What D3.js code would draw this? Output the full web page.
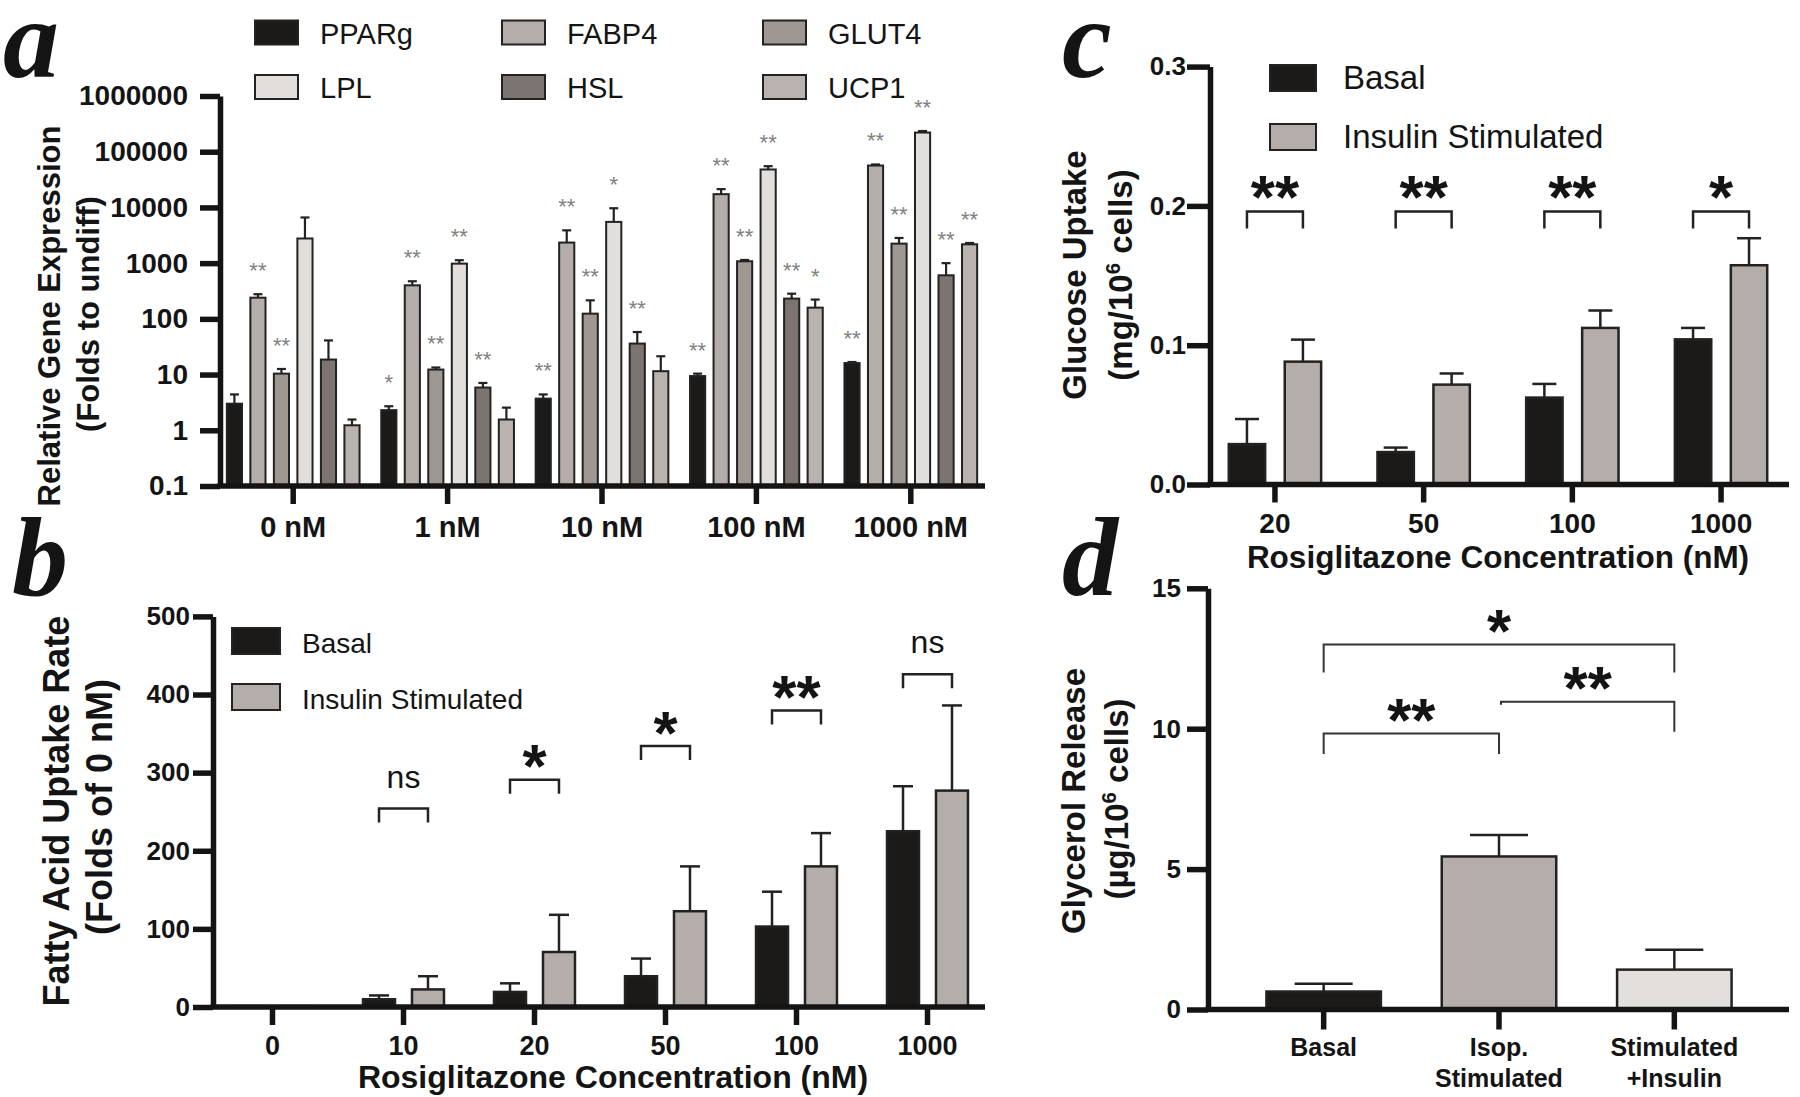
<!DOCTYPE html>
<html><head><meta charset="utf-8">
<script src="https://cdn.jsdelivr.net/npm/d3@7"></script>
<style>body{margin:0;background:#fff}svg{display:block}</style>
</head><body>
<svg id="chart" width="1800" height="1097"></svg>
<script>
// ---------------- DATA ----------------
// Panel a: relative gene expression (log scale)
const aCategories = ["0 nM", "1 nM", "10 nM", "100 nM", "1000 nM"];
const aGenes = ["PPARg", "FABP4", "GLUT4", "LPL", "HSL", "UCP1"];
const ppargMean = [3.0, 2.3, 3.7, 9.4, 16.1];
const ppargErr  = [1.4, 0.4, 0.7, 1.0, 0.7];
const fabp4Mean = [240, 400, 2340, 17300, 56500];
const fabp4Err  = [37, 73, 1540, 4000, 2500];
const glut4Mean = [10.4, 12.3, 124, 1080, 2240];
const glut4Err  = [2.2, 1.1, 91, 60, 590];
const lplMean   = [2770, 980, 5500, 48000, 221000];
const lplErr    = [3830, 150, 4170, 7000, 14000];
const hslMean   = [18.6, 5.85, 36, 231, 605];
const hslErr    = [22.4, 1.22, 22, 52, 395];
const ucp1Mean  = [1.23, 1.56, 11.5, 159, 2180];
const ucp1Err   = [0.33, 0.99, 9.8, 63, 120];
const ppargSig = ["", "*", "**", "**", "**"];
const fabp4Sig = ["**", "**", "**", "**", "**"];
const glut4Sig = ["**", "**", "**", "**", "**"];
const lplSig   = ["", "**", "*", "**", "**"];
const hslSig   = ["", "**", "**", "**", "**"];
const ucp1Sig  = ["", "", "", "*", "**"];
const aTickValues = [0.1, 1, 10, 100, 1000, 10000, 100000, 1000000];
const aTickLabels = ["0.1", "1", "10", "100", "1000", "10000", "100000", "1000000"];

// Panel b: fatty acid uptake
const bCategories = ["0", "10", "20", "50", "100", "1000"];
const bSeries = ["Basal", "Insulin Stimulated"];
const bBasal      = [1, 9.9, 19.3, 39.4, 103, 225];
const bBasalErr   = [0, 4.9, 11, 22.6, 44.6, 57.6];
const bInsulin    = [1, 22.5, 70.4, 122.6, 180, 277];
const bInsulinErr = [0, 16.9, 47.6, 57.4, 42.6, 109];
const bSig        = ["", "ns", "*", "*", "**", "ns"];
const bBracketAt  = [null, 254, 291, 334, 379.5, 426];
const bTicks = [0, 100, 200, 300, 400, 500];

// Panel c: glucose uptake
const cCategories = ["20", "50", "100", "1000"];
const cBasal      = [0.029, 0.0233, 0.0624, 0.1042];
const cBasalErr   = [0.018, 0.0032, 0.0098, 0.0082];
const cInsulin    = [0.0882, 0.0717, 0.1124, 0.1574];
const cInsulinErr = [0.0158, 0.008, 0.0125, 0.0194];
const cSig        = ["**", "**", "**", "*"];
const cBracketAt  = [0.196, 0.196, 0.196, 0.196];
const cTicks = [0, 0.1, 0.2, 0.3];

// Panel d: glycerol release
const dCategories = ["Basal", "Isop. Stimulated", "Stimulated +Insulin"];
const dLabelLines = [["Basal"], ["Isop.", "Stimulated"], ["Stimulated", "+Insulin"]];
const dValues = [0.64, 5.45, 1.42];
const dErr    = [0.28, 0.76, 0.71];
const dBrFrom  = [0, 0, 1];
const dBrTo    = [1, 2, 2];
const dBrLevel = [9.83, 13.0, 10.96];
const dBrLeftEnd  = [9.1, 12.0, 10.85];
const dBrRightEnd = [9.1, 12.0, 9.89];
const dBrLabel = ["**", "*", "**"];
const dTicks = [0, 5, 10, 15];

// ---------------- STYLE ----------------
const FONT = "'Liberation Sans', Arial, Helvetica, sans-serif";
const SERIF = "'Liberation Serif', 'Times New Roman', serif";
const INK = "#141414";
const geneColors = ["#1c1a19", "#b4adaa", "#9f9792", "#e2dedc", "#7b7470", "#b9b2af"];
const basalColor = "#1c1a19", insulinColor = "#b4adaa";
const dColors = ["#1c1a19", "#b4adaa", "#e3dfdd"];

const svg = d3.select("#chart");
svg.append("rect").attr("width", 1800).attr("height", 1097).attr("fill", "#fff");

function styleAxis(g, fs, sw) {
  g.attr("font-family", FONT).attr("font-size", fs).attr("font-weight", "bold");
  g.selectAll("path.domain").attr("stroke", INK).attr("stroke-width", sw);
  g.selectAll(".tick line").attr("stroke", INK).attr("stroke-width", sw);
  g.selectAll(".tick text").attr("fill", INK);
}
function hLine(x1, x2, y, sw) {
  svg.append("line").attr("x1", x1).attr("x2", x2).attr("y1", y).attr("y2", y)
    .attr("stroke", INK).attr("stroke-width", sw);
}
function yTitle(x, y, fs, parts) {
  const t = svg.append("text").attr("transform", `translate(${x},${y}) rotate(-90)`)
    .attr("text-anchor", "middle").attr("font-family", FONT).attr("font-weight", "bold")
    .attr("font-size", fs).attr("fill", INK);
  parts.forEach(p => {
    const s = t.append("tspan").text(p.t);
    if (p.sup) s.attr("font-size", fs * 0.62).attr("dy", -fs * 0.36);
    if (p.after) s.attr("dy", fs * 0.36);
  });
}
function bigStar(x, cy, txt, fs) {
  svg.append("text").attr("x", x).attr("y", cy + fs * 0.56).attr("text-anchor", "middle")
    .attr("font-family", FONT).attr("font-weight", "bold").attr("font-size", fs)
    .attr("fill", INK).text(txt);
}
function letter(x, y, fs, t) {
  svg.append("text").attr("x", x).attr("y", y).attr("font-family", SERIF)
    .attr("font-style", "italic").attr("font-weight", "bold").attr("font-size", fs)
    .attr("fill", INK).text(t);
}

// ================= PANEL A =================
const aMeans = [ppargMean, fabp4Mean, glut4Mean, lplMean, hslMean, ucp1Mean];
const aErrs = [ppargErr, fabp4Err, glut4Err, lplErr, hslErr, ucp1Err];
const aSigs = [ppargSig, fabp4Sig, glut4Sig, lplSig, hslSig, ucp1Sig];
const aRows = [];
aGenes.forEach((g, gi) => aCategories.forEach((c, ci) =>
  aRows.push({ gene: g, gi, cat: c, v: aMeans[gi][ci], e: aErrs[gi][ci], sig: aSigs[gi][ci] })));

const ax = d3.scaleBand().domain(aCategories).range([216, 988]).paddingInner(0.1405).paddingOuter(0.07025);
const axIn = d3.scaleBand().domain(aGenes).range([0, ax.bandwidth()]).paddingInner(0.356);
const ay = d3.scaleLog().domain([0.1, 1e6]).range([486, 96]);

const aBars = svg.append("g");
aBars.selectAll("rect").data(aRows).join("rect")
  .attr("x", d => ax(d.cat) + axIn(d.gene)).attr("width", axIn.bandwidth())
  .attr("y", d => ay(d.v)).attr("height", d => ay(0.1) - ay(d.v))
  .attr("fill", d => geneColors[d.gi]).attr("stroke", "#222").attr("stroke-width", 2);
const aErrG = svg.append("g").attr("stroke", "#222").attr("stroke-width", 2.2);
aRows.forEach(d => {
  const cx = ax(d.cat) + axIn(d.gene) + axIn.bandwidth() / 2;
  aErrG.append("line").attr("x1", cx).attr("x2", cx).attr("y1", ay(d.v)).attr("y2", ay(d.v + d.e));
  aErrG.append("line").attr("x1", cx - 4.5).attr("x2", cx + 4.5).attr("y1", ay(d.v + d.e)).attr("y2", ay(d.v + d.e));
  if (d.sig) {
    svg.append("text").attr("x", cx).attr("y", ay(d.v + d.e) - 28 + 12)
      .attr("text-anchor", "middle").attr("font-family", FONT).attr("font-size", 22)
      .attr("fill", "#808080").text(d.sig);
  }
});
const ayAxis = svg.append("g").attr("transform", "translate(220,0)")
  .call(d3.axisLeft(ay).tickValues(aTickValues).tickFormat((d, i) => aTickLabels[i]).tickSize(20).tickPadding(12).tickSizeOuter(0));
styleAxis(ayAxis, 28, 5.5);
const axAxis = svg.append("g").attr("transform", "translate(0,486)")
  .call(d3.axisBottom(ax).tickSize(18).tickPadding(12).tickSizeOuter(0));
styleAxis(axAxis, 29, 5.5);
axAxis.select("path.domain").remove();
hLine(217.5, 985, 486, 5.5);
yTitle(60, 316, 31, [{ t: "Relative Gene Expression" }]);
yTitle(99, 314, 31, [{ t: "(Folds to undiff)" }]);
// legend a
aGenes.forEach((g, i) => {
  const col = i % 3, row = Math.floor(i / 3);
  const lx = [255, 502, 763][col], ly = [20.5, 75][row];
  svg.append("rect").attr("x", lx).attr("y", ly).attr("width", 43).attr("height", 24)
    .attr("fill", geneColors[i]).attr("stroke", "#222").attr("stroke-width", 2);
  svg.append("text").attr("x", lx + 65).attr("y", ly + 23).attr("font-family", FONT)
    .attr("font-size", 29).attr("fill", INK).text(g);
});
letter(3, 77, 112, "a");

// ================= PANEL B =================
const bx = d3.scaleBand().domain(bCategories).range([207, 993]).paddingInner(0.382).paddingOuter(0.191);
const bxIn = d3.scaleBand().domain(bSeries).range([0, bx.bandwidth()]).paddingInner(0.347);
const by = d3.scaleLinear().domain([0, 500]).range([1007, 616.4]);
const bRows = [];
bCategories.forEach((c, i) => {
  bRows.push({ cat: c, s: bSeries[0], v: bBasal[i], e: bBasalErr[i], col: basalColor });
  bRows.push({ cat: c, s: bSeries[1], v: bInsulin[i], e: bInsulinErr[i], col: insulinColor });
});
svg.append("g").selectAll("rect").data(bRows).join("rect")
  .attr("x", d => bx(d.cat) + bxIn(d.s)).attr("width", bxIn.bandwidth())
  .attr("y", d => by(d.v)).attr("height", d => by(0) - by(d.v))
  .attr("fill", d => d.col).attr("stroke", "#222").attr("stroke-width", 2.5);
const bErrG = svg.append("g").attr("stroke", "#222").attr("stroke-width", 2.5);
bRows.filter(d => d.e > 0).forEach(d => {
  const cx = bx(d.cat) + bxIn(d.s) + bxIn.bandwidth() / 2;
  bErrG.append("line").attr("x1", cx).attr("x2", cx).attr("y1", by(d.v)).attr("y2", by(d.v + d.e));
  bErrG.append("line").attr("x1", cx - 10).attr("x2", cx + 10).attr("y1", by(d.v + d.e)).attr("y2", by(d.v + d.e));
});
bCategories.forEach((c, i) => {
  if (!bSig[i]) return;
  const x1 = bx(c) + bxIn(bSeries[0]) + bxIn.bandwidth() / 2;
  const x2 = bx(c) + bxIn(bSeries[1]) + bxIn.bandwidth() / 2;
  const y = by(bBracketAt[i]);
  svg.append("path").attr("d", `M${x1},${y + 14}V${y}H${x2}V${y + 14}`)
    .attr("fill", "none").attr("stroke", "#222").attr("stroke-width", 2.5);
  if (bSig[i] === "ns") {
    svg.append("text").attr("x", (x1 + x2) / 2).attr("y", y - 21).attr("text-anchor", "middle")
      .attr("font-family", FONT).attr("font-size", 32).attr("fill", INK).text("ns");
  } else bigStar((x1 + x2) / 2, y - 27, bSig[i], 62);
});
const byAxis = svg.append("g").attr("transform", "translate(213,0)")
  .call(d3.axisLeft(by).tickValues(bTicks).tickFormat(d3.format("d")).tickSize(20).tickPadding(3).tickSizeOuter(0));
styleAxis(byAxis, 26, 5.5);
const bxAxis = svg.append("g").attr("transform", "translate(0,1007)")
  .call(d3.axisBottom(bx).tickSize(18).tickPadding(11).tickSizeOuter(0));
styleAxis(bxAxis, 27, 5.5);
bxAxis.select("path.domain").remove();
hLine(210.5, 985, 1007, 5.5);
svg.append("text").attr("x", 613).attr("y", 1088).attr("text-anchor", "middle")
  .attr("font-family", FONT).attr("font-weight", "bold").attr("font-size", 32).attr("fill", INK)
  .text("Rosiglitazone Concentration (nM)");
yTitle(69, 811, 36, [{ t: "Fatty Acid Uptake Rate" }]);
yTitle(112, 807, 36, [{ t: "(Folds of 0 nM)" }]);
[basalColor, insulinColor].forEach((col, i) => {
  const ly = [628, 684][i];
  svg.append("rect").attr("x", 232).attr("y", ly).attr("width", 48).attr("height", 26)
    .attr("fill", col).attr("stroke", "#222").attr("stroke-width", 2);
  svg.append("text").attr("x", 302).attr("y", ly + 25).attr("font-family", FONT)
    .attr("font-size", 28).attr("fill", INK).text(bSeries[i]);
});
letter(12, 595, 112, "b");

// ================= PANEL C =================
const cx = d3.scaleBand().domain(cCategories).range([1200.6, 1795.4]).paddingInner(0.379).paddingOuter(0.1895);
const cxIn = d3.scaleBand().domain(bSeries).range([0, cx.bandwidth()]).paddingInner(0.35);
const cy = d3.scaleLinear().domain([0, 0.3]).range([484.5, 66.6]);
const cRows = [];
cCategories.forEach((c, i) => {
  cRows.push({ cat: c, s: bSeries[0], v: cBasal[i], e: cBasalErr[i], col: basalColor });
  cRows.push({ cat: c, s: bSeries[1], v: cInsulin[i], e: cInsulinErr[i], col: insulinColor });
});
svg.append("g").selectAll("rect").data(cRows).join("rect")
  .attr("x", d => cx(d.cat) + cxIn(d.s)).attr("width", cxIn.bandwidth())
  .attr("y", d => cy(d.v)).attr("height", d => cy(0) - cy(d.v))
  .attr("fill", d => d.col).attr("stroke", "#222").attr("stroke-width", 2.5);
const cErrG = svg.append("g").attr("stroke", "#222").attr("stroke-width", 2.5);
cRows.forEach(d => {
  const x = cx(d.cat) + cxIn(d.s) + cxIn.bandwidth() / 2;
  cErrG.append("line").attr("x1", x).attr("x2", x).attr("y1", cy(d.v)).attr("y2", cy(d.v + d.e));
  cErrG.append("line").attr("x1", x - 12).attr("x2", x + 12).attr("y1", cy(d.v + d.e)).attr("y2", cy(d.v + d.e));
});
cCategories.forEach((c, i) => {
  const x1 = cx(c) + cxIn(bSeries[0]) + cxIn.bandwidth() / 2;
  const x2 = cx(c) + cxIn(bSeries[1]) + cxIn.bandwidth() / 2;
  const y = cy(cBracketAt[i]);
  svg.append("path").attr("d", `M${x1},${y + 17}V${y}H${x2}V${y + 17}`)
    .attr("fill", "none").attr("stroke", "#222").attr("stroke-width", 2.5);
  bigStar((x1 + x2) / 2, y - 28, cSig[i], 62);
});
const cyAxis = svg.append("g").attr("transform", "translate(1210,0)")
  .call(d3.axisLeft(cy).tickValues(cTicks).tickFormat(d3.format(".1f")).tickSize(23).tickPadding(1).tickSizeOuter(0));
styleAxis(cyAxis, 26, 5.5);
const cxAxis = svg.append("g").attr("transform", "translate(0,484.5)")
  .call(d3.axisBottom(cx).tickSize(18).tickPadding(11).tickSizeOuter(0));
styleAxis(cxAxis, 28, 5.5);
cxAxis.select("path.domain").remove();
hLine(1207.5, 1789, 484.5, 5.5);
svg.append("text").attr("x", 1498).attr("y", 568).attr("text-anchor", "middle")
  .attr("font-family", FONT).attr("font-weight", "bold").attr("font-size", 31.5).attr("fill", INK)
  .text("Rosiglitazone Concentration (nM)");
yTitle(1086, 275, 33, [{ t: "Glucose Uptake" }]);
yTitle(1132, 275, 33, [{ t: "(mg/10" }, { t: "6", sup: true }, { t: " cells)", after: true }]);
[basalColor, insulinColor].forEach((col, i) => {
  const ly = [65, 124][i];
  svg.append("rect").attr("x", 1270).attr("y", ly).attr("width", 46).attr("height", 26)
    .attr("fill", col).attr("stroke", "#222").attr("stroke-width", 2);
  svg.append("text").attr("x", 1343).attr("y", ly + 24).attr("font-family", FONT)
    .attr("font-size", 33).attr("fill", INK).text(bSeries[i]);
});
letter(1062, 77, 112, "c");

// ================= PANEL D =================
const dx = d3.scaleBand().domain(dCategories).range([1236, 1762]).paddingInner(0.347).paddingOuter(0.1735);
const dy = d3.scaleLinear().domain([0, 15]).range([1009.5, 588.3]);
const dRows = dCategories.map((c, i) => ({ cat: c, v: dValues[i], e: dErr[i], col: dColors[i] }));
svg.append("g").selectAll("rect").data(dRows).join("rect")
  .attr("x", d => dx(d.cat)).attr("width", dx.bandwidth())
  .attr("y", d => dy(d.v)).attr("height", d => dy(0) - dy(d.v))
  .attr("fill", d => d.col).attr("stroke", "#222").attr("stroke-width", 2.5);
const dErrG = svg.append("g").attr("stroke", "#222").attr("stroke-width", 2.5);
dRows.forEach(d => {
  const x = dx(d.cat) + dx.bandwidth() / 2;
  dErrG.append("line").attr("x1", x).attr("x2", x).attr("y1", dy(d.v)).attr("y2", dy(d.v + d.e));
  dErrG.append("line").attr("x1", x - 29).attr("x2", x + 29).attr("y1", dy(d.v + d.e)).attr("y2", dy(d.v + d.e));
});
dBrFrom.forEach((f, i) => {
  const x1 = dx(dCategories[f]) + dx.bandwidth() / 2 + (i === 2 ? 2 : 0);
  const x2 = dx(dCategories[dBrTo[i]]) + dx.bandwidth() / 2;
  const y = dy(dBrLevel[i]);
  svg.append("path").attr("d", `M${x1},${dy(dBrLeftEnd[i])}V${y}H${x2}V${dy(dBrRightEnd[i])}`)
    .attr("fill", "none").attr("stroke", "#333").attr("stroke-width", 2);
  bigStar((x1 + x2) / 2, y - 27, dBrLabel[i], 62);
});
const dyAxis = svg.append("g").attr("transform", "translate(1208,0)")
  .call(d3.axisLeft(dy).tickValues(dTicks).tickFormat(d3.format("d")).tickSize(21).tickPadding(6).tickSizeOuter(0));
styleAxis(dyAxis, 26, 5.5);
const dxAxis = svg.append("g").attr("transform", "translate(0,1009.5)")
  .call(d3.axisBottom(dx).tickSize(20).tickFormat("").tickSizeOuter(0));
styleAxis(dxAxis, 26, 5.5);
dxAxis.select("path.domain").remove();
hLine(1205.5, 1789, 1009.5, 5.5);
dCategories.forEach((c, i) => {
  const t = svg.append("text").attr("text-anchor", "middle").attr("font-family", FONT)
    .attr("font-weight", "bold").attr("font-size", 25).attr("fill", INK);
  dLabelLines[i].forEach((ln, j) => {
    t.append("tspan").attr("x", dx(c) + dx.bandwidth() / 2).attr("y", 1056 + j * 31).text(ln);
  });
});
yTitle(1085, 801, 33, [{ t: "Glycerol Release" }]);
yTitle(1128, 799, 33, [{ t: "(µg/10" }, { t: "6", sup: true }, { t: " cells)", after: true }]);
letter(1062, 595, 112, "d");
</script>
</body></html>
